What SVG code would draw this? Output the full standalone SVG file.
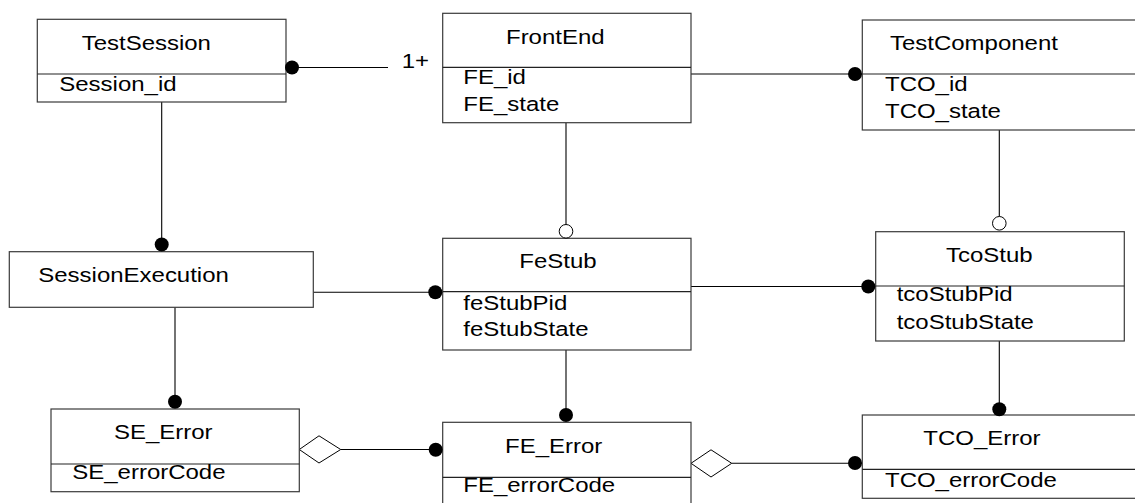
<svg xmlns="http://www.w3.org/2000/svg" width="1135" height="503" viewBox="0 0 1135 503">
  <style>
    .box { fill: #ffffff; stroke: #3a3a3a; stroke-width: 1.2; }
    .div { stroke: #222222; stroke-width: 1.2; }
    .ln { stroke: #000000; stroke-width: 1.1; fill: none; }
    .dot { fill: #000000; }
    .odot { fill: #ffffff; stroke: #000000; stroke-width: 1; }
    .dia { fill: #ffffff; stroke: #000000; stroke-width: 1; }
    text { font-family: "Liberation Sans", Arial, sans-serif; font-size: 20.5px; fill: #000000; }
  </style>
  <rect width="1135" height="503" fill="#ffffff"/>

  <!-- connectors -->
  <g id="connectors">
    <!-- TestSession - FrontEnd -->
    <line class="ln" x1="286" y1="67.5" x2="388" y2="67.5"/>
    <text transform="translate(401.7 67.5) scale(1.17 1)">1+</text>
    <!-- FrontEnd - TestComponent -->
    <line class="ln" x1="691" y1="74" x2="862" y2="74"/>
    <!-- TestSession - SessionExecution -->
    <line class="ln" x1="161.7" y1="102" x2="161.7" y2="244"/>
    <!-- FrontEnd - FeStub -->
    <line class="ln" x1="566" y1="122.7" x2="566" y2="224.5"/>
    <!-- TestComponent - TcoStub -->
    <line class="ln" x1="999.3" y1="130" x2="999.3" y2="216.5"/>
    <!-- SessionExecution - FeStub -->
    <line class="ln" x1="313.3" y1="292.3" x2="442.7" y2="292.3"/>
    <!-- FeStub - TcoStub -->
    <line class="ln" x1="691" y1="286.5" x2="875.7" y2="286.5"/>
    <!-- SessionExecution - SE_Error -->
    <line class="ln" x1="175" y1="307.3" x2="175" y2="402"/>
    <!-- FeStub - FE_Error -->
    <line class="ln" x1="566" y1="350" x2="566" y2="415"/>
    <!-- TcoStub - TCO_Error -->
    <line class="ln" x1="999.3" y1="341" x2="999.3" y2="409"/>
    <!-- SE_Error - FE_Error aggregation -->
    <line class="ln" x1="340.7" y1="449.5" x2="442.7" y2="449.5"/>
    <polygon class="dia" points="299.3,449.5 319,435.8 340.7,449.5 319,463"/>
    <!-- FE_Error - TCO_Error aggregation -->
    <line class="ln" x1="731.7" y1="463.3" x2="862.3" y2="463.3"/>
    <polygon class="dia" points="691,463.3 711,449.8 731.7,463.3 711,477"/>
  </g>

  <!-- nodes -->
  <g id="TestSession">
    <rect class="box" x="37.3" y="19.3" width="248.7" height="82.7"/>
    <line class="div" x1="37.3" y1="74" x2="286" y2="74"/>
    <text transform="translate(81.7 50) scale(1.17 1)">TestSession</text>
    <text transform="translate(59.3 90.7) scale(1.17 1)">Session_id</text>
  </g>

  <g id="FrontEnd">
    <rect class="box" x="442.7" y="13.3" width="248.3" height="109.4"/>
    <line class="div" x1="442.7" y1="67.3" x2="691" y2="67.3"/>
    <text transform="translate(506 44) scale(1.17 1)">FrontEnd</text>
    <text transform="translate(463.3 84) scale(1.17 1)">FE_id</text>
    <text transform="translate(463.3 110.7) scale(1.17 1)">FE_state</text>
  </g>

  <g id="TestComponent">
    <rect class="box" x="862.3" y="20" width="300" height="110"/>
    <line class="div" x1="862.3" y1="74" x2="1162" y2="74"/>
    <text transform="translate(890 50) scale(1.17 1)">TestComponent</text>
    <text transform="translate(885 90.7) scale(1.17 1)">TCO_id</text>
    <text transform="translate(885 118.3) scale(1.17 1)">TCO_state</text>
  </g>

  <g id="SessionExecution">
    <rect class="box" x="9.3" y="251.7" width="304" height="55.6"/>
    <text transform="translate(38.3 281.7) scale(1.17 1)">SessionExecution</text>
  </g>

  <g id="FeStub">
    <rect class="box" x="442.7" y="238.3" width="248.3" height="111.7"/>
    <line class="div" x1="442.7" y1="291.7" x2="691" y2="291.7"/>
    <text transform="translate(519.3 268.3) scale(1.17 1)">FeStub</text>
    <text transform="translate(463.3 310) scale(1.17 1)">feStubPid</text>
    <text transform="translate(463.3 336) scale(1.17 1)">feStubState</text>
  </g>

  <g id="TcoStub">
    <rect class="box" x="875.7" y="231.7" width="248.6" height="109.3"/>
    <line class="div" x1="875.7" y1="286" x2="1124.3" y2="286"/>
    <text transform="translate(946 261.7) scale(1.17 1)">TcoStub</text>
    <text transform="translate(896.7 301) scale(1.17 1)">tcoStubPid</text>
    <text transform="translate(896.7 329.3) scale(1.17 1)">tcoStubState</text>
  </g>

  <g id="SE_Error">
    <rect class="box" x="51" y="409" width="248.3" height="82.7"/>
    <line class="div" x1="51" y1="464" x2="299.3" y2="464"/>
    <text transform="translate(114 439) scale(1.17 1)">SE_Error</text>
    <text transform="translate(72.3 479.3) scale(1.17 1)">SE_errorCode</text>
  </g>

  <g id="FE_Error">
    <rect class="box" x="442.7" y="422.3" width="248.3" height="100"/>
    <line class="div" x1="442.7" y1="477.3" x2="691" y2="477.3"/>
    <text transform="translate(505 452.7) scale(1.17 1)">FE_Error</text>
    <text transform="translate(463.3 491.7) scale(1.17 1)">FE_errorCode</text>
  </g>

  <g id="TCO_Error">
    <rect class="box" x="862.3" y="415" width="300" height="83.3"/>
    <line class="div" x1="862.3" y1="469.3" x2="1162" y2="469.3"/>
    <text transform="translate(923.3 445) scale(1.17 1)">TCO_Error</text>
    <text transform="translate(885 487.3) scale(1.17 1)">TCO_errorCode</text>
  </g>

  <!-- connector end dots, drawn last so they sit over node edges -->
  <g id="end-dots">
    <circle class="dot" cx="292" cy="67.5" r="7"/>
    <circle class="dot" cx="855" cy="74" r="7"/>
    <circle class="dot" cx="161.7" cy="244.5" r="7"/>
    <circle class="odot" cx="566" cy="231.3" r="6.8"/>
    <circle class="odot" cx="999.3" cy="223.3" r="6.8"/>
    <circle class="dot" cx="435.3" cy="292.3" r="7"/>
    <circle class="dot" cx="868.3" cy="286.5" r="7"/>
    <circle class="dot" cx="175" cy="401.7" r="7"/>
    <circle class="dot" cx="566" cy="415" r="7"/>
    <circle class="dot" cx="999.3" cy="409.3" r="7"/>
    <circle class="dot" cx="435.7" cy="449.8" r="7"/>
    <circle class="dot" cx="855" cy="463" r="7"/>
  </g>
</svg>
